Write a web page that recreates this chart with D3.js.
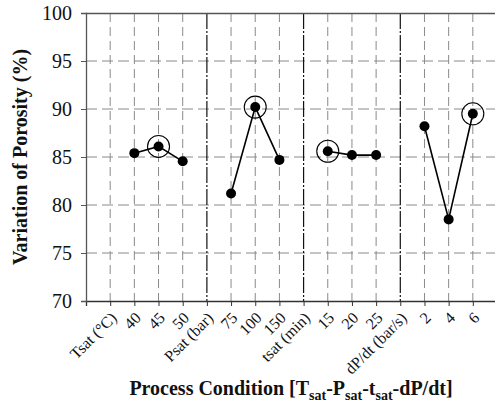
<!DOCTYPE html>
<html><head><meta charset="utf-8">
<script src="https://cdn.jsdelivr.net/npm/d3@7"></script>
<style>body{margin:0;background:#fff}svg{display:block}svg text{font-family:'Liberation Serif','Times New Roman',serif}</style>
</head><body>
<script>
const categories = ["Tsat (°C)","40","45","50","Psat (bar)","75","100","150","tsat (min)","15","20","25","dP/dt (bar/s)","2","4","6"];
const headers = ["Tsat (°C)","Psat (bar)","tsat (min)","dP/dt (bar/s)"];
const groupTsat = [{c:"40",v:85.4},{c:"45",v:86.1},{c:"50",v:84.55}];
const groupPsat = [{c:"75",v:81.2},{c:"100",v:90.2},{c:"150",v:84.7}];
const groupTime = [{c:"15",v:85.6},{c:"20",v:85.2},{c:"25",v:85.2}];
const groupRate = [{c:"2",v:88.2},{c:"4",v:78.5},{c:"6",v:89.5}];
const optimum = ["45","100","15","6"];
const yTicks = [70,75,80,85,90,95,100];

const FONT="'Liberation Serif','Times New Roman',serif";
const W=495,H=407, mLeft=86, mTop=13, mBottom=301, mRight=497;
const svg=d3.select("body").append("svg").attr("width",W).attr("height",H)
  .style("font-family",FONT);
const x=d3.scalePoint().domain(categories).range([mLeft,mRight]).padding(1);
const y=d3.scaleLinear().domain([70,100]).range([mBottom,mTop]);

// grid
const g=svg.append("g");
g.selectAll(".hg").data(yTicks.filter(d=>d>70&&d<100)).join("line")
  .attr("x1",mLeft).attr("x2",mRight).attr("y1",d=>y(d)).attr("y2",d=>y(d))
  .attr("stroke","#8a8a8a").attr("stroke-width",1).attr("stroke-dasharray","11,5");
g.selectAll(".vg").data(categories.filter(c=>!headers.slice(1).includes(c))).join("line")
  .attr("x1",d=>x(d)).attr("x2",d=>x(d)).attr("y1",mTop).attr("y2",mBottom)
  .attr("stroke","#8a8a8a").attr("stroke-width",1).attr("stroke-dasharray","9,5");
g.selectAll(".sep").data(headers.slice(1)).join("line")
  .attr("x1",d=>x(d)).attr("x2",d=>x(d)).attr("y1",mTop).attr("y2",mBottom)
  .attr("stroke","#111").attr("stroke-width",1.2).attr("stroke-dasharray","16,2,2,2");

// frame top
svg.append("line").attr("x1",mLeft).attr("x2",mRight).attr("y1",mTop+0.5).attr("y2",mTop+0.5).attr("stroke","#555").attr("stroke-width",1.3);

// axes
const xa=svg.append("g").attr("transform",`translate(0,${mBottom})`)
  .call(d3.axisBottom(x).tickSize(5).tickPadding(6)).attr("font-family",FONT);
xa.select(".domain").attr("stroke","#333").attr("stroke-width",1.3);
xa.selectAll(".tick line").attr("stroke","#333");
xa.selectAll("text").attr("font-size",16).attr("fill","#111")
  .attr("text-anchor","end").attr("x",0).attr("y",0).attr("dy","0.35em")
  .attr("transform","translate(3,14) rotate(-45)");

const ya=svg.append("g").attr("transform",`translate(${mLeft},0)`)
  .call(d3.axisLeft(y).tickValues(yTicks).tickSize(5).tickPadding(9)).attr("font-family",FONT);
ya.select(".domain").attr("stroke","#555").attr("stroke-width",1.3);
ya.selectAll(".tick line").attr("stroke","#555");
ya.selectAll("text").attr("font-size",20).attr("fill","#111");

// data
const groups=[groupTsat,groupPsat,groupTime,groupRate];
const line=d3.line().x(d=>x(d.c)).y(d=>y(d.v));
groups.forEach(gr=>{
  svg.append("path").datum(gr).attr("d",line).attr("fill","none").attr("stroke","#000").attr("stroke-width",1.6);
  svg.selectAll(null).data(gr).join("circle").attr("cx",d=>x(d.c)).attr("cy",d=>y(d.v)).attr("r",5).attr("fill","#000");
  svg.selectAll(null).data(gr.filter(d=>optimum.includes(d.c))).join("circle")
    .attr("cx",d=>x(d.c)).attr("cy",d=>y(d.v)).attr("r",11).attr("fill","none").attr("stroke","#000").attr("stroke-width",1.1);
});

// titles
svg.append("text").attr("transform",`translate(27,${(mTop+mBottom)/2}) rotate(-90)`)
  .attr("text-anchor","middle").attr("font-weight","bold").attr("font-size",20).attr("fill","#111")
  .text("Variation of Porosity (%)");
const xt=svg.append("text").attr("x",291).attr("y",395).attr("text-anchor","middle")
  .attr("font-weight","bold").attr("font-size",20).attr("fill","#111");
xt.append("tspan").text("Process Condition [T");
xt.append("tspan").attr("font-size",14).attr("dy",5).text("sat");
xt.append("tspan").attr("dy",-5).text("-P");
xt.append("tspan").attr("font-size",14).attr("dy",5).text("sat");
xt.append("tspan").attr("dy",-5).text("-t");
xt.append("tspan").attr("font-size",14).attr("dy",5).text("sat");
xt.append("tspan").attr("dy",-5).text("-dP/dt]");
</script>
</body></html>
